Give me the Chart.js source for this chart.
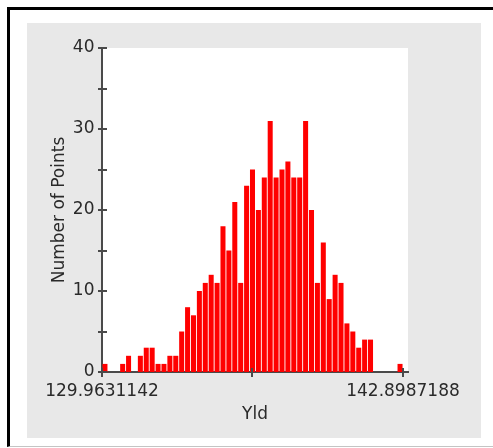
<!DOCTYPE html>
<html>
<head>
<meta charset="utf-8">
<script src="https://cdn.jsdelivr.net/npm/chart.js@4.4.1/dist/chart.umd.min.js"></script>
<style>
  html, body { margin: 0; padding: 0; background: #fff; overflow: hidden; }
  #frame {
    position: absolute; left: 7px; top: 7px; width: 520px; height: 436px;
    border-left: 3px solid #000; border-top: 3px solid #000; border-bottom: 1px solid #c4c4c4;
  }
  #panel { position: absolute; left: 27px; top: 23px; width: 454px; height: 415px; background: #e8e8e8; }
  #chart { position: absolute; left: 0; top: 0; }
</style>
</head>
<body>
<div id="frame"></div>
<div id="panel"></div>
<canvas id="chart" width="493" height="448"></canvas>
<script>
// Datos del histograma (conteo por intervalo)
const binCounts = [1, 0, 0, 1, 2, 0, 2, 3, 3, 1, 1, 2, 2, 5, 8, 7, 10, 11, 12, 11,
    18, 15, 21, 11, 23, 25, 20, 24, 31, 24, 25, 26, 24, 24, 31, 20, 11, 16, 9, 12,
    11, 6, 5, 3, 4, 4, 0, 0, 0, 0, 1];
const xMin = 129.9631142;
const xMax = 142.8987188;
const xTickLabels = ['129.9631142', '', '142.8987188'];
const yTickLabels = ['0', '', '10', '', '20', '', '30', '', '40'];
const xTitle = 'Yld';
const yTitle = 'Number of Points';

const binW = (xMax - xMin) / binCounts.length;
const puntos = binCounts.map((c, i) => ({ x: xMin + (i + 0.5) * binW, y: c }));

const axisColor = '#4a4a4a';

Chart.defaults.font.family = 'DejaVu Sans';
Chart.defaults.font.size = 17;
Chart.defaults.color = '#2a2a2a';

// Fondo blanco del área de la gráfica
const fondoPlugin = {
    id: 'fondo',
    beforeDraw(chart) {
        const { ctx, chartArea: a } = chart;
        ctx.save();
        ctx.fillStyle = '#ffffff';
        ctx.fillRect(a.left, a.top, a.right - a.left, a.bottom - a.top);
        ctx.restore();
    }
};

// Marcas que cruzan los ejes
const marcasPlugin = {
    id: 'marcas',
    afterDraw(chart) {
        const { ctx } = chart;
        const xs = chart.scales.x, ys = chart.scales.y;
        ctx.save();
        ctx.strokeStyle = axisColor;
        ctx.lineWidth = 2;
        ys.ticks.forEach(t => {
            const py = Math.round(ys.getPixelForValue(t.value));
            ctx.beginPath();
            ctx.moveTo(xs.left - 4, py);
            ctx.lineTo(xs.left + 5, py);
            ctx.stroke();
        });
        xs.ticks.forEach(t => {
            const px = Math.round(xs.getPixelForValue(t.value));
            ctx.beginPath();
            ctx.moveTo(px, ys.bottom - 4);
            ctx.lineTo(px, ys.bottom + 5);
            ctx.stroke();
        });
        ctx.restore();
    }
};

new Chart(document.getElementById('chart'), {
    type: 'bar',
    data: {
        datasets: [{
            data: puntos,
            backgroundColor: '#ff0000',
            borderWidth: 0,
            barPercentage: 0.85,
            categoryPercentage: 1
        }]
    },
    options: {
        responsive: false,
        animation: false,
        layout: { padding: { left: 0, top: 48, right: 85, bottom: 0 } },
        plugins: { legend: { display: false }, tooltip: { enabled: false } },
        scales: {
            x: {
                type: 'linear',
                min: xMin,
                max: xMax + 0.85 * binW,
                offset: false,
                z: 1,
                afterBuildTicks: s => {
                    s.ticks = [xMin, (xMin + xMax) / 2, xMax].map(v => ({ value: v }));
                },
                ticks: {
                    autoSkip: false,
                    maxRotation: 0,
                    padding: 9,
                    callback: (v, i) => xTickLabels[i]
                },
                grid: { display: false, drawTicks: false, offset: false },
                border: { color: axisColor, width: 2 },
                title: { display: true, text: xTitle, padding: { top: 0, bottom: 23 } },
                afterFit: s => { s.height = 76; }
            },
            y: {
                min: 0,
                max: 40,
                z: 1,
                ticks: {
                    stepSize: 5,
                    padding: 7.5,
                    callback: (v, i) => yTickLabels[i]
                },
                grid: { display: false, drawTicks: false },
                border: { color: axisColor, width: 2 },
                title: { display: true, text: yTitle, padding: { top: 49, bottom: 0 } },
                afterFit: s => { s.width = 102; }
            }
        }
    },
    plugins: [fondoPlugin, marcasPlugin]
});
</script>
</body>
</html>
